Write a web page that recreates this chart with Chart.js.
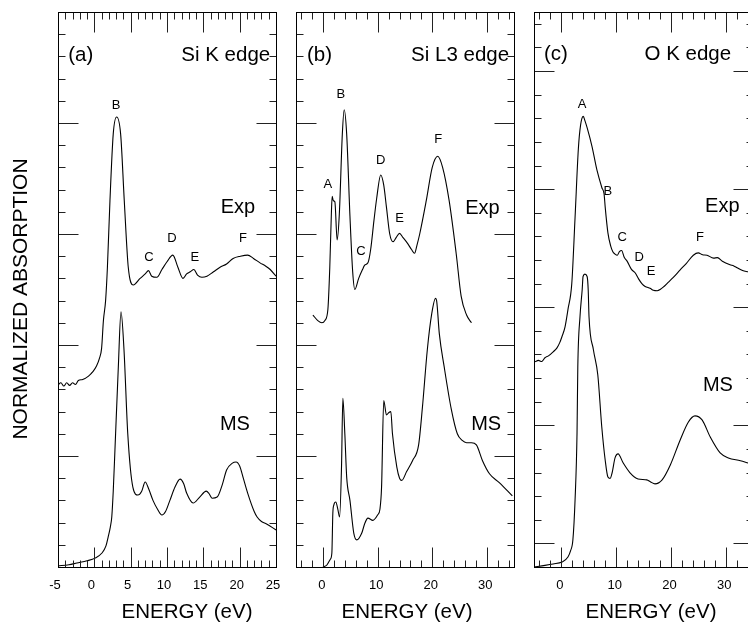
<!DOCTYPE html>
<html>
<head>
<meta charset="utf-8">
<script src="https://cdn.jsdelivr.net/npm/chart.js@4.4.1/dist/chart.umd.min.js"></script>
<style>
  html, body { margin: 0; padding: 0; background: #fff; overflow: hidden; }
  body { width: 748px; height: 627px; position: relative; }
  canvas { position: absolute; top: 0; }
</style>
</head>
<body>
<canvas id="panelA" width="296" height="627" style="left:0px"></canvas>
<canvas id="panelB" width="238" height="627" style="left:288px"></canvas>
<canvas id="panelC" width="240" height="627" style="left:526px"></canvas>
<script>
// values: [energy (eV), normalized absorption (arb.)]
const siK_exp = [[-5, 8.2], [-4.6, 8.3], [-4.2, 8.15], [-3.8, 8.3], [-3.4, 8.18], [-3.0, 8.3], [-2.6, 8.22], [-2.2, 8.4],
  [-1.6, 8.45], [-0.8, 8.6], [-0.2, 8.8], [0.3, 9.05], [0.7, 9.4], [1.0, 9.85], [1.25, 11.1], [1.55, 12.0], [1.8, 13.5],
  [2.15, 16.5], [2.6, 19.5], [3.07, 20.27], [3.62, 19.5], [4.12, 16.5], [4.67, 13.5], [5.36, 12.7], [6.3, 13.0], [7.0, 13.2],
  [7.45, 13.35], [7.9, 13.1], [8.6, 13.05], [9.3, 13.4], [10.0, 13.75], [10.8, 14.05], [11.5, 13.5], [12.2, 13.0], [12.7, 13.2],
  [13.2, 13.3], [13.7, 13.4], [14.2, 13.15], [14.8, 13.05], [15.5, 13.1], [16.4, 13.3], [17.3, 13.5], [18.2, 13.65], [19.1, 13.9],
  [20.1, 14.0], [21.1, 14.05], [21.9, 13.9], [22.8, 13.7], [23.6, 13.55], [24.2, 13.4], [25, 13.1]];
const siK_ms = [[-5, 0.05], [-3.5, 0.1], [-2.4, 0.18], [-1, 0.28], [0.1, 0.4], [1.05, 0.63], [1.6, 0.95], [1.9, 1.35], [2.2, 1.8],
  [2.4, 2.25], [2.6, 3.4], [2.84, 5.3], [3.3, 9.0], [3.67, 11.5], [4.08, 9.8], [4.6, 6.0], [5.3, 3.6], [6.0, 3.24], [6.5, 3.4],
  [7.0, 3.83], [7.5, 3.5], [8.07, 3.0], [8.7, 2.6], [9.3, 2.34], [9.8, 2.5], [10.4, 3.0], [11.1, 3.6], [11.8, 3.96], [12.3, 3.75],
  [12.7, 3.33], [13.6, 2.88], [14.5, 3.15], [15.4, 3.42], [15.8, 3.3], [16.2, 3.1], [16.9, 3.15], [17.6, 3.7], [18.2, 4.37],
  [19.0, 4.68], [19.5, 4.73], [20.0, 4.55], [20.5, 4.0], [21.1, 3.33], [22.0, 2.5], [22.4, 2.25], [23.0, 2.05], [23.7, 1.94], [25, 1.67]];

const siL3_exp = [[-1.9, 11.35], [-1.0, 11.1], [-0.25, 11.0], [0.3, 11.1], [0.85, 11.6], [1.2, 13.5], [1.5, 16.0], [1.64, 16.7],
  [1.85, 16.5], [2.13, 16.45], [2.55, 14.73], [2.95, 15.9], [3.5, 19.5], [3.84, 20.6], [4.3, 19.5], [4.9, 15.8], [5.4, 13.3],
  [5.8, 12.5], [6.5, 13.0], [7.3, 13.45], [7.6, 13.6], [8.2, 13.7], [8.7, 14.3], [9.3, 15.6], [9.8, 16.6], [10.55, 17.66],
  [11.1, 17.2], [11.6, 16.2], [12.2, 15.0], [12.8, 14.65], [13.4, 14.85], [14.0, 15.03], [14.6, 14.85], [15.4, 14.6], [16.2, 14.3],
  [16.76, 14.13], [17.2, 14.5], [17.7, 15.0], [18.9, 16.5], [20.0, 18.0], [21.0, 18.5], [21.9, 18.0], [23.1, 16.5], [24.4, 14.1],
  [25.3, 12.2], [26.3, 11.35], [27.2, 11.0]];
const siL3_ms = [[-0.06, 0], [0.67, 0.09], [1.3, 0.35], [1.58, 0.63], [1.76, 2.43], [1.95, 2.8], [2.3, 2.93], [2.7, 2.57], [3.0, 2.25],
  [3.35, 4.5], [3.6, 7.6], [3.96, 6.0], [4.3, 4.05], [4.9, 3.0], [5.6, 1.53], [6.15, 1.22], [7.07, 1.53], [7.6, 1.95], [8.2, 2.2],
  [9.1, 2.1], [10.0, 2.35], [10.4, 2.6], [10.7, 3.6], [11.1, 7.5], [11.6, 6.85], [12.0, 6.95], [12.4, 7.0], [12.7, 6.0], [13.5, 4.5],
  [14.0, 4.0], [14.4, 3.9], [15.3, 4.3], [16.4, 4.8], [17.5, 5.5], [18.2, 7.2], [19.1, 9.8], [19.9, 11.4], [20.6, 12.1], [20.8, 12.0],
  [21.3, 10.5], [22.2, 9.0], [23.5, 7.1], [24.6, 6.0], [25.5, 5.7], [26.3, 5.6], [27.2, 5.6], [28.1, 5.5], [29.2, 4.8], [30.5, 4.2],
  [32.3, 3.8], [34.7, 3.2]];

const oK_exp = [[-4.8, 7.69], [-4.2, 7.75], [-3.6, 7.7], [-3.0, 7.86], [-2.3, 7.95], [-1.5, 8.11], [-0.8, 8.28], [-0.3, 8.5],
  [0.1, 8.75], [0.67, 9.17], [1.2, 9.9], [1.9, 11.0], [2.5, 13.8], [3.1, 16.7], [3.5, 17.7], [4.0, 18.08], [4.3, 17.9], [4.7, 17.6],
  [5.6, 16.8], [6.5, 15.8], [7.4, 15.06], [7.8, 14.8], [8.0, 14.25], [8.5, 13.15], [9.0, 12.6], [9.4, 12.35], [9.8, 12.25],
  [10.2, 12.2], [10.6, 12.35], [11.0, 12.4], [11.5, 12.1], [12.0, 11.95], [12.8, 11.6], [13.5, 11.45], [14.1, 11.2], [14.7, 11.0],
  [15.3, 10.88], [16.2, 10.8], [16.8, 10.72], [17.5, 10.7], [18.1, 10.76], [18.6, 10.85], [19.5, 11.05], [20.4, 11.25], [21.7, 11.58],
  [22.8, 11.85], [24.1, 12.2], [25.0, 12.3], [25.8, 12.22], [26.6, 12.2], [27.8, 12.08], [28.5, 12.1], [29.4, 11.95], [30.8, 11.8],
  [31.5, 11.75], [32.1, 11.67], [33.1, 11.55], [34.1, 11.5]];
const oK_ms = [[-5, -1.0], [-3, -0.93], [-1.5, -0.87], [0.1, -0.79], [1.2, -0.58], [1.7, -0.3], [2.1, 0.14], [2.5, 1.84], [2.86, 4.68],
  [3.0, 7.47], [3.4, 9.6], [3.8, 10.74], [3.96, 11.3], [4.3, 11.4], [4.7, 11.3], [4.9, 10.74], [5.05, 9.6], [5.85, 8.2], [6.65, 7.14],
  [7.38, 4.93], [8.0, 3.53], [8.5, 2.81], [8.9, 2.75], [9.26, 2.98], [9.8, 3.62], [10.36, 3.79], [11.3, 3.4], [12.5, 3.0], [14.0, 2.73],
  [15.6, 2.69], [16.3, 2.6], [17.1, 2.52], [18.4, 2.69], [19.9, 3.32], [21.7, 4.38], [23.2, 5.14], [24.4, 5.4], [25.7, 5.23],
  [27.2, 4.5], [29.0, 3.83], [30.5, 3.62], [32.7, 3.5], [34.1, 3.4]];

// tick labels on the energy axes
const siK_ticks = [-5, 0, 5, 10, 15, 20, 25];
const siL3_ticks = [0, 10, 20, 30];
const oK_ticks = [0, 10, 20, 30];

const FONT = '"Liberation Sans", Arial, Helvetica, sans-serif';
Chart.defaults.font.family = FONT;
Chart.defaults.color = '#000';

// frame, inward tick marks and all the text of one panel
const panelDecor = {
  id: 'panelDecor',
  afterDatasetsDraw(chart, args, o) {
    const { ctx, chartArea: a } = chart;
    const sx = chart.scales.x, sy = chart.scales.y;
    const L = Math.round(a.left) + 0.5, R = Math.round(a.right) + 0.5;
    const T = Math.round(a.top) + 0.5, B = Math.round(a.bottom) + 0.5;
    ctx.save();
    ctx.strokeStyle = '#222';
    ctx.lineWidth = 1;
    ctx.beginPath();
    const isMajor = (v, m) => Math.abs(v / m - Math.round(v / m)) < 1e-6;
    for (let v = Math.ceil(o.xMin / o.xMinor) * o.xMinor; v < o.xMax - 1e-6; v += o.xMinor) {
      if (v <= o.xMin + 1e-6) continue;
      const px = Math.round(sx.getPixelForValue(v)) + 0.5;
      const len = isMajor(v, o.xMajor) ? 20 : 7;
      ctx.moveTo(px, B); ctx.lineTo(px, B - len);
      ctx.moveTo(px, T); ctx.lineTo(px, T + len);
    }
    for (let v = Math.ceil(o.yMin / o.yMinor) * o.yMinor; v < o.yMax - 1e-6; v += o.yMinor) {
      if (v <= o.yMin + 1e-6) continue;
      const py = Math.round(sy.getPixelForValue(v)) + 0.5;
      const len = isMajor(v, o.yMajor) ? 20 : 7;
      ctx.moveTo(L, py); ctx.lineTo(L + len, py);
      ctx.moveTo(R, py); ctx.lineTo(R - len, py);
    }
    ctx.stroke();
    ctx.strokeStyle = '#000';
    ctx.strokeRect(L, T, R - L, B - T);

    ctx.fillStyle = '#000';
    ctx.textBaseline = 'middle';
    o.texts.forEach(t => {
      ctx.font = t.size + 'px ' + FONT;
      ctx.textAlign = t.align || 'center';
      ctx.fillText(t.t, sx.getPixelForValue(t.x), sy.getPixelForValue(t.y));
    });
    ctx.font = '20.5px ' + FONT;
    ctx.textAlign = 'center';
    ctx.fillText('ENERGY (eV)', o.xTitleX, 612);
    if (o.yTitle) {
      ctx.translate(21, 299);
      ctx.rotate(-Math.PI / 2);
      ctx.font = '21px ' + FONT;
      ctx.fillText(o.yTitle, 0, 0);
    }
    ctx.restore();
  }
};

function makePanel(id, p) {
  return new Chart(document.getElementById(id), {
    type: 'line',
    data: {
      datasets: p.series.map(s => ({
        data: s.map(([x, y]) => ({ x, y })),
        borderColor: '#000',
        borderWidth: 1.1,
        pointRadius: 0,
        fill: false,
        cubicInterpolationMode: 'monotone'
      }))
    },
    options: {
      responsive: false,
      animation: false,
      devicePixelRatio: 1,
      layout: { padding: { left: p.padLeft, right: p.padRight, top: 12, bottom: 0 } },
      plugins: { legend: { display: false }, tooltip: { enabled: false }, panelDecor: p },
      scales: {
        x: {
          type: 'linear', min: p.xMin, max: p.xMax,
          grid: { display: false, drawTicks: false },
          border: { display: false },
          afterBuildTicks: s => { s.ticks = p.ticks.map(v => ({ value: v })); },
          afterFit: s => { s.height = 60; },
          ticks: { padding: 11, labelOffset: p.labelOffset, font: { size: 13 }, maxRotation: 0, autoSkip: false }
        },
        y: { type: 'linear', display: false, min: p.yMin, max: p.yMax }
      }
    },
    plugins: [panelDecor]
  });
}

makePanel('panelA', {
  series: [siK_exp, siK_ms], ticks: siK_ticks,
  xMin: -5, xMax: 25, xMinor: 1, xMajor: 5,
  yMin: 0, yMax: 25, yMinor: 1, yMajor: 5,
  padLeft: 58, padRight: 20, labelOffset: -3, xTitleX: 187,
  yTitle: 'NORMALIZED ABSORPTION',
  texts: [
    { t: '(a)', x: -3.6, y: 23.06, align: 'left', size: 20.5 },
    { t: 'Si K edge', x: 24.2, y: 23.06, align: 'right', size: 20.5 },
    { t: 'B', x: 2.98, y: 20.77, size: 13 },
    { t: 'C', x: 7.5, y: 13.96, size: 13 },
    { t: 'D', x: 10.68, y: 14.82, size: 13 },
    { t: 'E', x: 13.84, y: 13.96, size: 13 },
    { t: 'F', x: 20.45, y: 14.82, size: 13 },
    { t: 'Exp', x: 19.76, y: 16.2, size: 20 },
    { t: 'MS', x: 19.35, y: 6.4, size: 20 }
  ]
});

makePanel('panelB', {
  series: [siL3_exp, siL3_ms], ticks: siL3_ticks,
  xMin: -5, xMax: 35, xMinor: 2, xMajor: 10,
  yMin: 0, yMax: 25, yMinor: 1, yMajor: 5,
  padLeft: 8, padRight: 12, labelOffset: -1.5, xTitleX: 119,
  texts: [
    { t: '(b)', x: -3.0, y: 23.06, align: 'left', size: 20.5 },
    { t: 'Si L3 edge', x: 34.1, y: 23.06, align: 'right', size: 20.5 },
    { t: 'A', x: 0.85, y: 17.25, size: 13 },
    { t: 'B', x: 3.23, y: 21.3, size: 13 },
    { t: 'C', x: 6.9, y: 14.23, size: 13 },
    { t: 'D', x: 10.54, y: 18.33, size: 13 },
    { t: 'E', x: 14.0, y: 15.72, size: 13 },
    { t: 'F', x: 21.1, y: 19.28, size: 13 },
    { t: 'Exp', x: 29.2, y: 16.17, size: 20 },
    { t: 'MS', x: 29.9, y: 6.4, size: 20 }
  ]
});

makePanel('panelC', {
  series: [oK_exp, oK_ms], ticks: oK_ticks,
  xMin: -5, xMax: 35, xMinor: 2, xMajor: 10,
  yMin: -1, yMax: 22.5, yMinor: 1, yMajor: 5,
  padLeft: 8, padRight: 13, labelOffset: -1.5, xTitleX: 125,
  texts: [
    { t: '(c)', x: -3.17, y: 20.7, align: 'left', size: 20.5 },
    { t: 'O K edge', x: 31.0, y: 20.7, align: 'right', size: 20.5 },
    { t: 'A', x: 3.78, y: 18.6, size: 13 },
    { t: 'B', x: 8.5, y: 14.9, size: 13 },
    { t: 'C', x: 11.1, y: 12.94, size: 13 },
    { t: 'D', x: 14.2, y: 12.1, size: 13 },
    { t: 'E', x: 16.4, y: 11.5, size: 13 },
    { t: 'F', x: 25.3, y: 12.94, size: 13 },
    { t: 'Exp', x: 29.4, y: 14.25, size: 20 },
    { t: 'MS', x: 28.6, y: 6.7, size: 20 }
  ]
});
</script>
</body>
</html>
